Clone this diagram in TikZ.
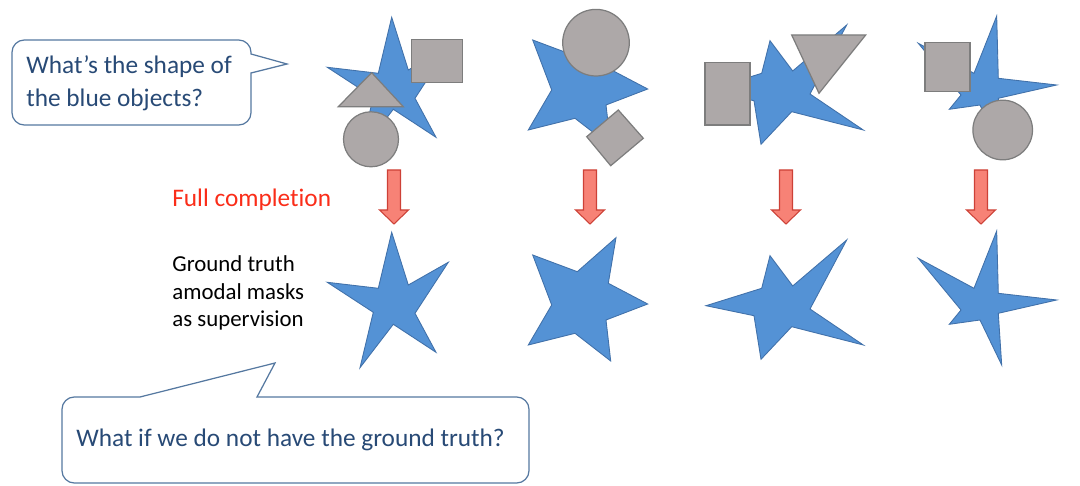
\documentclass[tikz,border=0pt]{standalone}
\usepackage{fontspec}
\setmainfont{Carlito}[Ligatures={NoCommon}]
\usepackage{xcolor}
\usepackage{tikz}

\definecolor{starblue}{RGB}{84,146,213}
\definecolor{staredge}{RGB}{65,113,170}
\definecolor{shapegrey}{RGB}{173,168,168}
\definecolor{greyedge}{RGB}{125,125,125}
\definecolor{arrowred}{RGB}{247,130,118}
\definecolor{arrowedge}{RGB}{205,65,55}
\definecolor{fullred}{RGB}{250,45,25}
\definecolor{askblue}{RGB}{40,74,118}
\definecolor{calloutedge}{RGB}{85,120,160}

\tikzset{
  bluestar/.style={fill=starblue, draw=staredge, line width=0.5pt},
  occluder/.style={fill=shapegrey, draw=greyedge, line width=0.7pt},
  downarrow/.style={fill=arrowred, draw=arrowedge, line width=0.6pt},
  callout/.style={draw=calloutedge, line width=0.7pt, fill=white},
  asktext/.style={text=askblue, inner sep=0pt, align=left, font=\fontsize{14.4}{18.7}\selectfont},
  fulltext/.style={text=fullred, inner sep=0pt, font=\fontsize{14.4}{17}\selectfont},
  gttext/.style={text=black, inner sep=0pt, align=left, font=\fontsize{13}{15.6}\selectfont}
}

\begin{document}
\begin{tikzpicture}[x=0.02cm, y=-0.02cm]

\useasboundingbox (0,0) rectangle (1080,486);

% stars: masked ones on top, ground truth below
\foreach \dy in {0,-215} {
  \draw[bluestar, shift={(0,\dy)}] (391.7,232.3) -- (408.3,285) -- (448.3,262.3) -- (415,313.3) -- (436,352.3) -- (393.3,324.3) -- (360,367.7) -- (373.3,312.3) -- (327.3,282.3) -- (378.3,288.3) -- cycle;
  \draw[bluestar, shift={(0,\dy)}] (616,237.7) -- (608.3,283.3) -- (647.7,304) -- (606,320) -- (610.7,361) -- (575,333.3) -- (528.3,345) -- (551.7,305) -- (532.7,255) -- (577.3,271.7) -- cycle;
  \draw[bluestar, shift={(0,\dy)}] (770,255.7) -- (792.7,286) -- (846.7,240) -- (810,309) -- (863.3,345) -- (791.7,326.7) -- (761,359.3) -- (754,315.7) -- (706,305.7) -- (761.7,288.3) -- cycle;
  \draw[bluestar, shift={(0,\dy)}] (996.7,231) -- (998.3,293.3) -- (1056.7,300) -- (998.3,313.3) -- (1001.7,365) -- (980,320) -- (949.3,324.3) -- (961,310) -- (918.3,258.3) -- (974,288.3) -- cycle;
}

% grey occluders
\draw[occluder] (411.7,39.3) rectangle (462.3,82.3);
\draw[occluder] (371.7,72.7) -- (338.3,106.7) -- (403.3,106.7) -- cycle;
\draw[occluder] (371,139.3) circle [radius=27.5];

\draw[occluder] (596,42.7) circle [radius=33.3];
\draw[occluder] (618.3,110) -- (643.3,138.3) -- (610.7,165.7) -- (586.7,136.7) -- cycle;

\draw[occluder] (705,62.7) rectangle (750,125);
\draw[occluder] (791.7,35) -- (865.7,35) -- (819,93.3) -- cycle;

\draw[occluder] (925,42.7) rectangle (970,91.7);
\draw[occluder] (1002.7,130) circle [radius=29.8];

% block arrows
\foreach \ax in {394,590,786,981}
  \draw[downarrow] (\ax-6.5,170) -- (\ax+6.5,170) -- (\ax+6.5,210) -- (\ax+14.5,210) -- (\ax,224) -- (\ax-14.5,210) -- (\ax-6.5,210) -- cycle;

\node[fulltext, anchor=base west] (full) at (172,207) {Full completion};
\node[gttext, anchor=west] (gt) at (172,293) {Ground truth\\amodal masks\\as supervision};

% speech bubbles
\draw[callout] (251,73) [rounded corners=7pt] -- (251,125) -- (12,125) -- (12,40) -- (251,40) [sharp corners] -- (251,54) -- (287,64) -- cycle;
\node[asktext, anchor=west] (ask) at (26,83) {What’s the shape of\\the blue objects?};

\draw[callout] (257,397) [rounded corners=7pt] -- (529,397) -- (529,483) -- (62,483) -- (62,397) [sharp corners] -- (140,397) -- (275,363) -- cycle;
\node[asktext, anchor=base west] (nogt) at (76,446.7) {What if we do not have the ground truth?};

\end{tikzpicture}
\end{document}
